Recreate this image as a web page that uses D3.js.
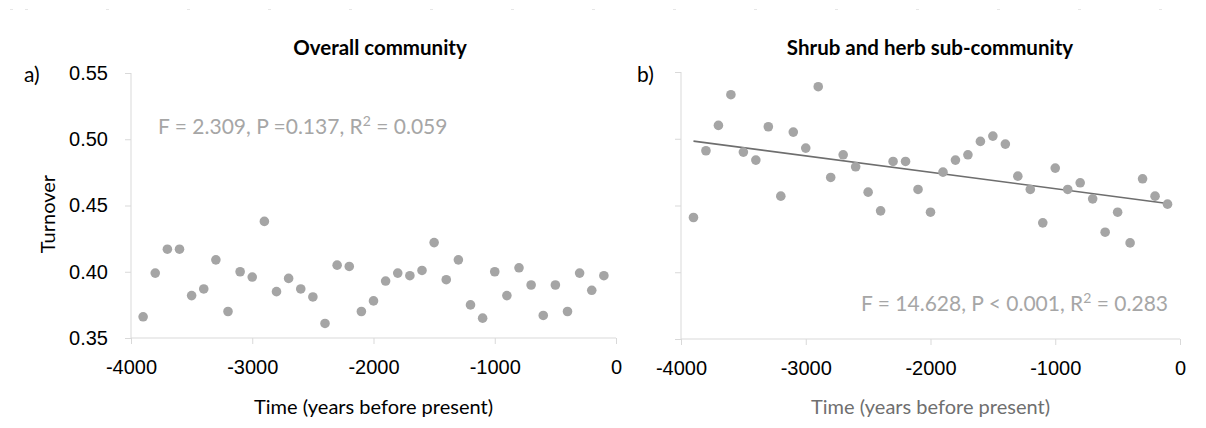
<!DOCTYPE html>
<html>
<head>
<meta charset="utf-8">
<script src="https://cdn.jsdelivr.net/npm/d3@7/dist/d3.min.js"></script>
<style>
  html, body { margin: 0; padding: 0; background: #ffffff; }
  svg { display: block; font-family: Lato, "Open Sans", sans-serif; }
</style>
</head>
<body>
<svg id="chart" width="1206" height="428"></svg>
<script>
// Sampling times (years before present), one sample every 100 years
const years = [-3900, -3800, -3700, -3600, -3500, -3400, -3300, -3200, -3100, -3000,
  -2900, -2800, -2700, -2600, -2500, -2400, -2300, -2200, -2100, -2000,
  -1900, -1800, -1700, -1600, -1500, -1400, -1300, -1200, -1100, -1000,
  -900, -800, -700, -600, -500, -400, -300, -200, -100];

// Turnover, overall community
const overallTurnover = [0.366, 0.399, 0.417, 0.417, 0.382, 0.387, 0.409, 0.370, 0.400, 0.396,
  0.438, 0.385, 0.395, 0.387, 0.381, 0.361, 0.405, 0.404, 0.370, 0.378,
  0.393, 0.399, 0.397, 0.401, 0.422, 0.394, 0.409, 0.375, 0.365, 0.400,
  0.382, 0.403, 0.390, 0.367, 0.390, 0.370, 0.399, 0.386, 0.397];

// Turnover, shrub and herb sub-community
const shrubTurnover = [0.441, 0.491, 0.510, 0.533, 0.490, 0.484, 0.509, 0.457, 0.505, 0.493,
  0.539, 0.471, 0.488, 0.479, 0.460, 0.446, 0.483, 0.483, 0.462, 0.445,
  0.475, 0.484, 0.488, 0.498, 0.502, 0.496, 0.472, 0.462, 0.437, 0.478,
  0.462, 0.467, 0.455, 0.430, 0.445, 0.422, 0.470, 0.457, 0.451];

const xTicks = [-4000, -3000, -2000, -1000, 0];
const yTicks = [0.35, 0.40, 0.45, 0.50, 0.55];

const svg = d3.select("#chart");
const axisColor = "#d9d9d9";
const pointColor = "#a5a5a5";

// faint marks along the very top edge
svg.append("g").selectAll("rect")
  .data([10].concat(d3.range(25, 1200, 81)))
  .join("rect")
  .attr("x", d => d).attr("y", 9).attr("width", 3).attr("height", 1)
  .attr("fill", "#e6e6e6");

function panel(opts) {
  const x = d3.scaleLinear().domain([-4000, 0]).range(opts.xRange);
  const y = d3.scaleLinear().domain([0.35, 0.55]).range(opts.yRange);
  const g = svg.append("g");

  // x axis
  const xa = g.append("g")
    .attr("transform", `translate(0,${opts.yRange[0]})`)
    .call(d3.axisBottom(x).tickValues(xTicks).tickSize(6).tickPadding(16).tickFormat(d3.format("d")));
  xa.select(".domain").attr("stroke", axisColor).attr("d", `M${opts.xRange[0]},0H${opts.xRange[1]}`);
  xa.selectAll(".tick line").attr("stroke", axisColor);
  xa.selectAll(".tick text").attr("fill", "#000").style("font-size", "20px")
    .text(d => d === 0 ? "0" : String(d));

  // y axis
  const ya = g.append("g")
    .attr("transform", `translate(${opts.xRange[0]},0)`)
    .call(d3.axisLeft(y).tickValues(yTicks).tickSize(6).tickPadding(17).tickFormat(d3.format(".2f")));
  ya.select(".domain").attr("stroke", axisColor).attr("d", `M0,${opts.yRange[1]}V${opts.yRange[0]}`);
  ya.selectAll(".tick line").attr("stroke", axisColor);
  ya.selectAll(".tick text").attr("fill", "#000").style("font-size", "20px");
  if (!opts.yLabels) ya.selectAll(".tick text").remove();

  // trend line (least squares fit)
  if (opts.trend) {
    const n = years.length;
    const mx = d3.mean(years), my = d3.mean(opts.values);
    let sxy = 0, sxx = 0;
    years.forEach((t, i) => { sxy += (t - mx) * (opts.values[i] - my); sxx += (t - mx) * (t - mx); });
    const b = sxy / sxx, a = my - b * mx;
    const ends = [years[0], years[n - 1]];
    g.append("line")
      .attr("x1", x(ends[0])).attr("y1", y(a + b * ends[0]))
      .attr("x2", x(ends[1])).attr("y2", y(a + b * ends[1]))
      .attr("stroke", "#6e6e6e").attr("stroke-width", 1.6);
  }

  // points
  g.append("g").selectAll("circle")
    .data(years.map((t, i) => [t, opts.values[i]]))
    .join("circle")
    .attr("cx", d => x(d[0])).attr("cy", d => y(d[1]))
    .attr("r", 4.8).attr("fill", pointColor);

  // title
  g.append("text").attr("x", opts.titleX).attr("y", 55)
    .attr("text-anchor", "middle").attr("font-weight", "bold")
    .style("font-size", "20.5px").attr("fill", "#000").text(opts.title);

  // panel letter
  g.append("text").attr("x", opts.letterX).attr("y", 82)
    .style("font-size", "21px").attr("fill", "#000").text(opts.letter);

  // x axis title
  g.append("text").attr("x", (opts.xRange[0] + opts.xRange[1]) / 2).attr("y", 414)
    .attr("text-anchor", "middle").style("font-size", "20px")
    .attr("fill", opts.xTitleColor).text("Time (years before present)");

  // statistics annotation
  const s = g.append("text").attr("x", opts.statX).attr("y", opts.statY)
    .attr("text-anchor", opts.statAnchor).style("font-size", "21px").attr("fill", "#a6a6a6");
  s.append("tspan").text(opts.stat[0]);
  s.append("tspan").attr("dy", -8).style("font-size", "14px").text("2");
  s.append("tspan").attr("dy", 8).text(opts.stat[1]);
  return { x, y };
}

panel({
  xRange: [131, 616], yRange: [338, 73], values: overallTurnover, yLabels: true, trend: false,
  title: "Overall community", titleX: 380, letter: "a)", letterX: 24,
  xTitleColor: "#000", statX: 158, statY: 134, statAnchor: "start",
  stat: ["F = 2.309, P =0.137, R", " = 0.059"]
});

panel({
  xRange: [681, 1180], yRange: [339, 72], values: shrubTurnover, yLabels: false, trend: true,
  title: "Shrub and herb sub-community", titleX: 930, letter: "b)", letterX: 637,
  xTitleColor: "#6f6f6f", statX: 1168, statY: 311, statAnchor: "end",
  stat: ["F = 14.628, P < 0.001, R", " = 0.283"]
});

// y axis title
svg.append("text")
  .attr("transform", "translate(55,214) rotate(-90)")
  .attr("text-anchor", "middle").style("font-size", "20px").attr("fill", "#000")
  .text("Turnover");
</script>
</body>
</html>
